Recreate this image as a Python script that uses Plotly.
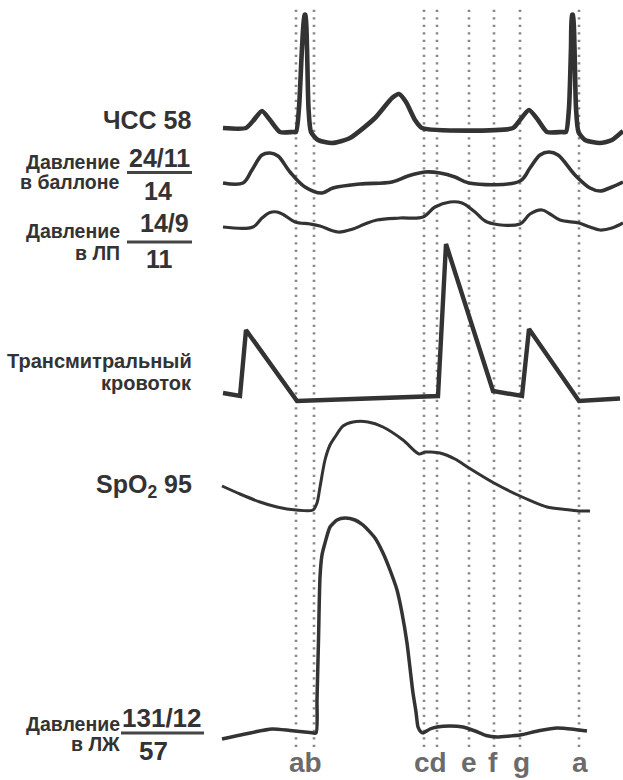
import plotly.graph_objects as go

W, H = 623, 780

# ---------------- data (time units ~ px, amplitude units ~ px above baseline) ----------------
ecg_t = [3, 26, 33, 42, 50, 60, 73, 76, 79, 82, 84.5, 85.5, 87, 88.5, 91, 98, 112, 130, 155, 172, 179, 186, 195, 202,
         293, 300, 309, 318, 327, 342, 346, 349, 351, 352, 353, 354.5, 356, 358.5, 365, 380, 392, 403]
ecg_v = [0, 0, 7, 17, 8, -4, -4, -4, 20, 80, 113, 113, 80, 20, -4, -12, -15, -10, 10, 30, 34, 26, 8, 0,
         0, 8, 18, 8, -4, -4, -4, 20, 80, 113, 113, 80, 20, -4, -12, -15, -12, -3]

balloon_t = [3, 23, 32, 42, 50, 58, 70, 85, 102, 113, 140, 172, 188, 205, 220, 235, 249,
             300, 310, 320, 329, 338, 355, 370, 380, 392, 403]
balloon_v = [0, 0, 13, 28, 30, 27, 11, -4, -10, -5, -1, 1, 7, 11, 10, 6, 0,
             2, 15, 28, 31, 28, 8, -5, -8, -4, 1]

la_t = [3, 33, 42, 50, 57, 64, 75, 90, 100, 118, 133, 145, 157, 180, 203, 215, 230, 242, 255, 267,
        300, 310, 322, 330, 340, 359, 370, 380, 392, 403]
la_v = [0, 0, 9, 14.5, 15, 12, 5, 3, 1, -5, -2, 3, 7, 9, 10, 20, 25, 24, 15, 5,
        3, 13, 17, 13, 7, 4, 0, -3, -1, 4]

flow_t = [3, 20, 26, 77, 218, 226, 273, 302, 309, 359, 400]
flow_v = [7, 4, 70, -1, 4, 156, 9, 4, 71, -1, 1.5]

spo2_t = [2, 20, 40, 57, 76, 93, 97, 100, 105, 110, 115, 123, 133, 148, 163, 183, 199, 205, 210, 220,
          235, 249, 274, 300, 327, 345, 359, 370]
spo2_v = [24, 16, 8, 3, 0, 0, 7, 23, 50, 65, 73, 84, 88, 88, 83, 70, 56, 58, 58, 57,
          51, 42, 27, 14, 3, 0.5, -1, -1]

lv_t = [2, 25, 52, 70, 90, 96, 97, 98.5, 100, 102, 105, 110, 117, 125, 135, 143, 155, 163, 170, 177,
        182, 187, 190, 193, 196, 198, 201, 203, 210, 217, 230, 243, 255, 266, 277, 290, 300, 320, 337, 355, 367]
lv_v = [-6, -1, 4, 2.5, 0.5, 0, 33, 93, 156, 178, 190, 206, 213, 215, 213, 208, 195, 180, 163, 143,
        120, 90, 65, 40, 21, 6, 1, 0, 4, 6, 7, 6, 2, -2.5, -4, -3, -2, 2.5, 5, 3.5, 2]

event_t = [76, 94, 204, 217, 249, 274, 300, 359]
event_lbl = ["ab", "cd", "e", "f", "g", "a"]
event_lbl_t = [85, 210, 249, 273, 301, 360]

# ---------------- layout helpers ----------------
X0 = -220  # time value at left edge


def px_x(px):
    return px / W


def px_y(py):
    return 1 - py / H


fig = go.Figure()

channels = [
    # (t, v, baseline px, line width, shape, smoothing)
    (ecg_t, ecg_v, 128, 4.6, "spline", 0.6),
    (balloon_t, balloon_v, 183, 3.6, "spline", 1.0),
    (la_t, la_v, 227, 3.2, "spline", 1.0),
    (flow_t, flow_v, 400, 4.4, "linear", 0),
    (spo2_t, spo2_v, 510, 3.0, "spline", 0.8),
    (lv_t, lv_v, 733, 3.5, "spline", 0.6),
]

LINE = "#333333"
for i, (t, v, base, lw, shp, sm) in enumerate(channels):
    ax = "y" if i == 0 else f"y{i+1}"
    line = dict(color=LINE, width=lw, shape=shp)
    if shp == "spline":
        line["smoothing"] = sm
    fig.add_trace(go.Scatter(x=t, y=v, mode="lines", line=line, yaxis=ax,
                             hoverinfo="skip", showlegend=False))
    hi = base - 1
    lo = min(60, H - base - 1)
    key = "yaxis" if i == 0 else f"yaxis{i+1}"
    fig.layout[key] = dict(domain=[(H - base - lo) / H, (H - base + hi) / H], range=[-lo, hi],
                           visible=False, fixedrange=True, anchor="x")

fig.update_layout(
    width=W, height=H, autosize=False,
    margin=dict(l=0, r=0, t=0, b=0),
    paper_bgcolor="white", plot_bgcolor="rgba(0,0,0,0)",
    xaxis=dict(range=[X0, X0 + W], domain=[0, 1], visible=False, fixedrange=True),
)

# dotted event lines
for t in event_t:
    fig.add_shape(type="line", xref="x", yref="paper", x0=t, x1=t, y0=px_y(747), y1=px_y(9),
                  line=dict(color="#888888", width=2.6, dash="2.2px,5.3px"), layer="below")

# event letters
for t, s in zip(event_lbl_t, event_lbl):
    fig.add_annotation(x=t, y=px_y(762), xref="x", yref="paper", text=f"<b>{s}</b>", showarrow=False,
                       xanchor="center", yanchor="middle",
                       font=dict(family="Liberation Sans Narrow, Liberation Sans, Arial", size=28, color="#6b6b6b"))

LF = "Liberation Sans, Arial, sans-serif"
TXT = "#333333"


def label(text, px_r, py, size, anchor="right"):
    fig.add_annotation(x=px_x(px_r), y=px_y(py), xref="paper", yref="paper", text=f"<b>{text}</b>",
                       showarrow=False, xanchor=anchor, yanchor="middle",
                       font=dict(family=LF, size=size, color=TXT))


def bar(px0, px1, py):
    fig.add_shape(type="line", xref="paper", yref="paper", x0=px_x(px0), x1=px_x(px1),
                  y0=px_y(py), y1=px_y(py), line=dict(color="#444444", width=3))


label("ЧСС 58", 194, 120, 25)

label("Давление", 122, 162, 19.5)
label("в баллоне", 122, 182, 19.5)
label("24/11", 160, 158, 25, "center")
bar(127, 192, 172.5)
label("14", 158, 191, 25, "center")

label("Давление", 122, 231, 19.5)
label("в ЛП", 122, 253, 19.5)
label("14/9", 164, 223, 25, "center")
bar(127, 192, 242)
label("11", 159, 259, 25, "center")

label("Трансмитральный", 194, 361, 20)
label("кровоток", 194, 383, 20)

label("SpO<sub>2</sub> 95", 194, 486, 25)

label("Давление", 122, 724, 19.5)
label("в ЛЖ", 122, 744, 19.5)
label("131/12", 162, 718, 26, "center")
bar(121, 204, 733)
label("57", 153, 751, 26, "center")

fig.write_html("out.html", config={"displayModeBar": False},
               post_script="document.body.style.margin='0';document.body.style.padding='0';")
